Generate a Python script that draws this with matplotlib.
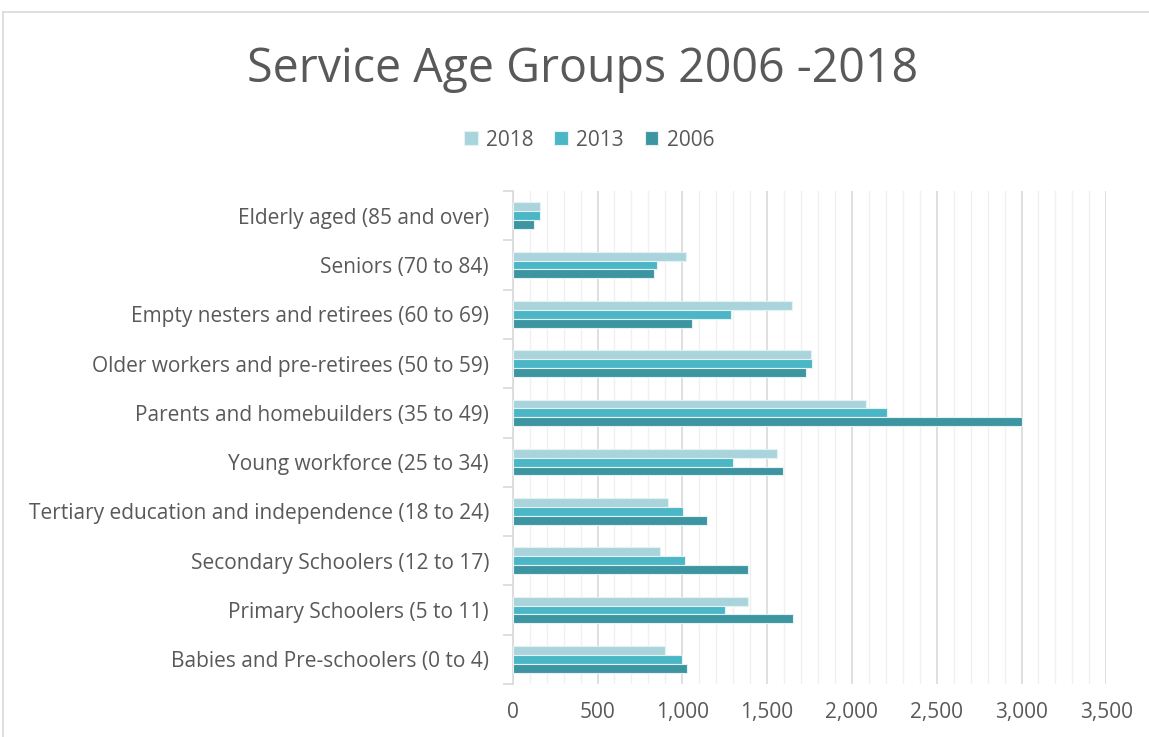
import numpy as np
import matplotlib
matplotlib.use("Agg")
import matplotlib.pyplot as plt
from matplotlib.lines import Line2D
from matplotlib.ticker import MultipleLocator, FuncFormatter

plt.rcParams['font.family'] = ['Open Sans', 'DejaVu Sans']

# Categories from top to bottom
categories = [
    'Elderly aged (85 and over)',
    'Seniors (70 to 84)',
    'Empty nesters and retirees (60 to 69)',
    'Older workers and pre-retirees (50 to 59)',
    'Parents and homebuilders (35 to 49)',
    'Young workforce (25 to 34)',
    'Tertiary education and independence (18 to 24)',
    'Secondary Schoolers (12 to 17)',
    'Primary Schoolers (5 to 11)',
    'Babies and Pre-schoolers (0 to 4)',
]
v2018 = [161, 1020, 1648, 1760, 2082, 1559, 914, 869, 1387, 900]
v2013 = [161, 849, 1288, 1766, 2209, 1297, 1003, 1013, 1249, 1000]
v2006 = [128, 836, 1060, 1732, 3000, 1595, 1148, 1388, 1653, 1025]

series_names = ['2018', '2013', '2006']
colors = ['#A9D4DB', '#4BB6C6', '#3D95A1']
grey_txt = '#595959'

fig = plt.figure(figsize=(11.49, 7.37), dpi=100)
ax = fig.add_axes([512.7 / 1149, 1 - 684 / 737, (1106.3 - 512.7) / 1149, (684 - 191) / 737])

n = len(categories)
y = np.arange(n)
bh = 0.18
for i, (vals, name, c) in enumerate(zip([v2018, v2013, v2006], series_names, colors)):
    ax.barh(y + (i - 1) * bh, vals, height=bh, color=c, label=name,
            edgecolor='#E4F2F4', linewidth=0.8, zorder=3)

ax.set_ylim(n - 0.5, -0.5)
ax.set_xlim(0, 3500)
ax.set_yticks(y)
ax.set_yticklabels(categories, fontsize=15, color=grey_txt)
ax.set_yticks(np.arange(-0.5, n, 1), minor=True)
ax.tick_params(axis='y', which='major', length=0, pad=17)
ax.tick_params(axis='y', which='minor', length=7, color='#D9D9D9', width=1.2)

ax.xaxis.set_major_locator(MultipleLocator(500))
ax.xaxis.set_minor_locator(MultipleLocator(100))
ax.xaxis.set_major_formatter(FuncFormatter(lambda v, p: f'{int(v):,}'))
ax.tick_params(axis='x', which='both', length=0, labelsize=15, labelcolor=grey_txt, pad=13)
ax.grid(axis='x', which='major', color='#D9D9D9', linewidth=1.2, zorder=0)
ax.grid(axis='x', which='minor', color='#F0F0F0', linewidth=1.0, zorder=0)

for s in ['top', 'right', 'bottom']:
    ax.spines[s].set_visible(False)
ax.spines['left'].set_color('#D9D9D9')
ax.spines['left'].set_linewidth(1.2)

fig.text(583 / 1149, 1 - 69 / 737, 'Service Age Groups 2006 -2018', ha='center', va='center',
         fontsize=33.5, color=grey_txt)

leg = fig.legend(loc='center', bbox_to_anchor=(589 / 1149, 1 - 140 / 737), ncol=3, frameon=False,
                 fontsize=15, handlelength=0.65, handleheight=0.65, handletextpad=0.4,
                 columnspacing=1.0)
for t in leg.get_texts():
    t.set_color(grey_txt)

# chart area border
fig.add_artist(Line2D([3 / 1149, 1], [1 - 12 / 737, 1 - 12 / 737], color='#D9D9D9', lw=1.2,
                      transform=fig.transFigure))
fig.add_artist(Line2D([3 / 1149, 3 / 1149], [0, 1 - 12 / 737], color='#D9D9D9', lw=1.2,
                      transform=fig.transFigure))

fig.savefig('out.png', dpi=100)
